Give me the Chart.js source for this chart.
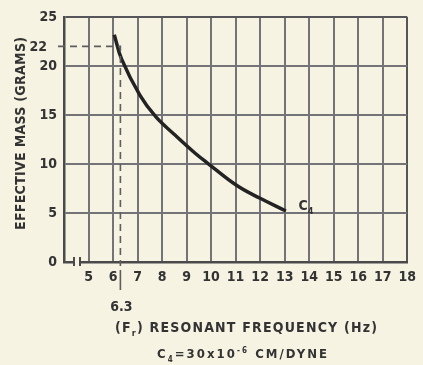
<!DOCTYPE html>
<html>
<head>
<meta charset="utf-8">
<script src="https://cdn.jsdelivr.net/npm/chart.js@4.4.1/dist/chart.umd.min.js"></script>
<style>
  html, body { margin: 0; padding: 0; background: #f6f3e3; }
  #wrap { width: 423px; height: 365px; }
</style>
</head>
<body>
<div id="wrap"><canvas id="c" width="423" height="365"></canvas></div>
<script>
// Effective mass versus resonant frequency for compliance C4
const frequencyHz = [6.05, 6.35, 7.1, 7.75, 8.55, 9.35, 9.85, 11.05, 12.0, 13.05];
const massGrams   = [23.2, 20.7, 17.0, 14.8, 12.9, 11.1, 10.1, 7.8, 6.5, 5.2];

// Axis ranges and tick labels
const freqRange = [4, 18];
const massRange = [0, 25];
const freqTickStep = 1;
const massTickStep = 5;

// Marked operating point
const markFreq = 6.3;
const markMass = 22;

const PAPER = '#f6f3e3';
const INK = '#333333';
const GRID = '#747478';
const FONT = '"DejaVu Sans Condensed", "Liberation Sans Narrow", "DejaVu Sans", sans-serif';

// Draws text made of normal / subscript / superscript runs, spread to a given width
function drawRich(ctx, parts, cx, baseline, size, targetWidth) {
  const runs = parts.map(p => {
    const s = p.sub || p.sup ? Math.round(size * 0.62) : size;
    ctx.font = `bold ${s}px ${FONT}`;
    ctx.letterSpacing = '0px';
    return { ...p, size: s, w: ctx.measureText(p.t).width, n: [...p.t].length };
  });
  const raw = runs.reduce((a, r) => a + r.w, 0);
  const chars = runs.reduce((a, r) => a + r.n, 0);
  const sp = targetWidth ? Math.max(-1, (targetWidth - raw) / (chars - 1)) : 0;
  let x = cx - (raw + sp * (chars - 1)) / 2;
  ctx.textAlign = 'left';
  ctx.textBaseline = 'alphabetic';
  for (const r of runs) {
    ctx.font = `bold ${r.size}px ${FONT}`;
    ctx.letterSpacing = sp + 'px';
    let y = baseline;
    if (r.sub) y += size * 0.28;
    if (r.sup) y -= size * 0.42;
    ctx.fillText(r.t, x, y);
    x += r.w + sp * r.n;
  }
  ctx.letterSpacing = '0px';
}

const paperPlugin = {
  id: 'paper',
  beforeDraw(chart) {
    const { ctx, width, height } = chart;
    ctx.save();
    ctx.fillStyle = PAPER;
    ctx.fillRect(0, 0, width, height);
    ctx.restore();
  }
};

const annotationsPlugin = {
  id: 'annotations',
  afterDatasetsDraw(chart) {
    const { ctx, chartArea, scales: { x, y } } = chart;
    const px = x.getPixelForValue(markFreq);
    const py = y.getPixelForValue(markMass);
    ctx.save();

    // dashed guide lines to the marked point
    ctx.strokeStyle = '#5e5e5e';
    ctx.lineWidth = 1.6;
    ctx.setLineDash([7, 5]);
    ctx.beginPath();
    ctx.moveTo(chartArea.left - 6, py);
    ctx.lineTo(px, py);
    ctx.lineTo(px, chartArea.bottom + 4);
    ctx.stroke();
    ctx.setLineDash([]);
    ctx.beginPath();
    ctx.moveTo(px, chartArea.bottom + 8);
    ctx.lineTo(px, chartArea.bottom + 28);
    ctx.stroke();

    // axis break near the origin
    ctx.fillStyle = PAPER;
    ctx.fillRect(chartArea.left + 11, chartArea.bottom - 3, 4, 6);
    ctx.strokeStyle = '#4a4a4a';
    ctx.lineWidth = 2;
    ctx.beginPath();
    ctx.moveTo(chartArea.left + 10, chartArea.bottom - 5);
    ctx.lineTo(chartArea.left + 10, chartArea.bottom + 4);
    ctx.moveTo(chartArea.left + 16, chartArea.bottom - 5);
    ctx.lineTo(chartArea.left + 16, chartArea.bottom + 4);
    ctx.stroke();

    ctx.fillStyle = INK;
    // marked values
    ctx.font = `bold 14px ${FONT}`;
    ctx.textBaseline = 'middle';
    ctx.textAlign = 'right';
    ctx.fillText('22', chartArea.left - 17, py + 1);
    ctx.textAlign = 'center';
    ctx.fillText('6.3', px + 1, chartArea.bottom + 45);

    // curve label
    const ex = x.getPixelForValue(frequencyHz[frequencyHz.length - 1]);
    const ey = y.getPixelForValue(massGrams[massGrams.length - 1]);
    drawRich(ctx, [{ t: 'C' }, { t: '4', sub: true }], ex + 20, ey - 1, 14, 0);

    // axis titles
    drawRich(ctx, [{ t: '(F' }, { t: 'r', sub: true }, { t: ') RESONANT FREQUENCY (Hz)' }],
      246, 332, 14, 262);
    drawRich(ctx, [{ t: 'C' }, { t: '4', sub: true }, { t: '=30x10' }, { t: '-6', sup: true }, { t: ' CM/DYNE' }],
      242, 358, 13, 170);

    ctx.translate(25, (chartArea.top + chartArea.bottom) / 2 - 6);
    ctx.rotate(-Math.PI / 2);
    drawRich(ctx, [{ t: 'EFFECTIVE MASS (GRAMS)' }], 0, 0, 14, 193);
    ctx.restore();
  }
};

const tickFont = { family: FONT, size: 14, weight: 'bold' };

new Chart(document.getElementById('c'), {
  type: 'line',
  data: {
    datasets: [{
      data: frequencyHz.map((f, i) => ({ x: f, y: massGrams[i] })),
      borderColor: '#232323',
      borderWidth: 3.5,
      pointRadius: 0,
      tension: 0.4,
      fill: false
    }]
  },
  options: {
    responsive: false,
    animation: false,
    layout: { padding: { top: 17, right: 10, left: 0, bottom: 0 } },
    plugins: { legend: { display: false }, tooltip: { enabled: false } },
    scales: {
      x: {
        type: 'linear',
        min: freqRange[0],
        max: freqRange[1],
        afterFit(s) { s.height = 103; },
        ticks: {
          stepSize: freqTickStep,
          font: tickFont,
          color: INK,
          padding: 7,
          maxRotation: 0,
          autoSkip: false,
          callback: v => (v === freqRange[0] ? '' : String(v))
        },
        grid: {
          color: ctx => (ctx.tick && ctx.tick.value === freqRange[1] ? '#55555a' : GRID),
          lineWidth: 2,
          drawTicks: false
        },
        border: { display: true, color: '#4a4a4a', width: 2.5 }
      },
      y: {
        min: massRange[0],
        max: massRange[1],
        afterFit(s) { s.width = 64; },
        ticks: {
          stepSize: massTickStep,
          font: tickFont,
          color: INK,
          padding: 7
        },
        grid: {
          color: ctx => (ctx.tick && ctx.tick.value === massRange[1] ? '#55555a' : GRID),
          lineWidth: 2,
          drawTicks: false
        },
        border: { display: true, color: '#4a4a4a', width: 2.5 }
      }
    }
  },
  plugins: [paperPlugin, annotationsPlugin]
});
</script>
</body>
</html>
